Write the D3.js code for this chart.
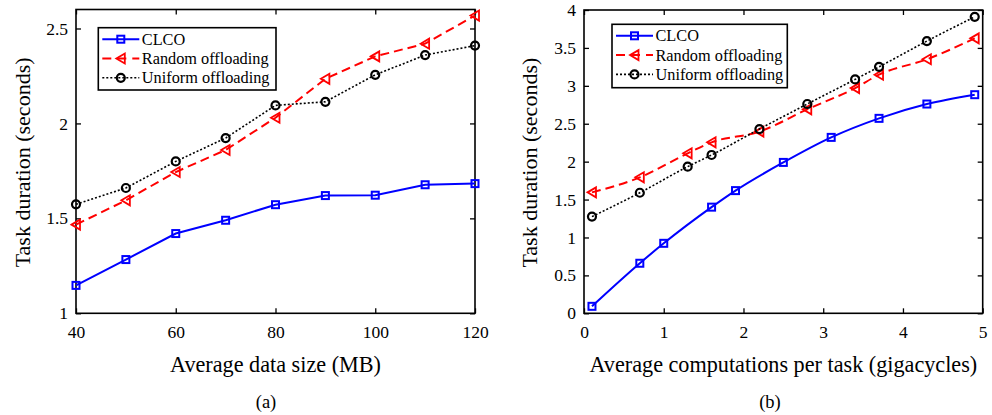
<!DOCTYPE html>
<html><head><meta charset="utf-8">
<script src="https://cdn.jsdelivr.net/npm/d3@7/dist/d3.min.js"></script>
<style>body{margin:0;background:#fff}svg{display:block}</style>
</head><body><svg id="c" width="992" height="415"></svg>
<script>
// ---- Data: chart (a)
const xA = [40, 50, 60, 70, 80, 90, 100, 110, 120];
const clcoA = [1.147, 1.283, 1.42, 1.49, 1.572, 1.62, 1.622, 1.677, 1.683];
const randomA = [1.467, 1.595, 1.744, 1.86, 2.03, 2.235, 2.353, 2.42, 2.568];
const uniformA = [1.574, 1.66, 1.8, 1.923, 2.095, 2.114, 2.256, 2.36, 2.41];
const xTicksA = [40, 60, 80, 100, 120];
const yTicksA = [1, 1.5, 2, 2.5];
// ---- Data: chart (b)
const xClcoB = [0.1, 0.7, 1.0, 1.6, 1.9, 2.5, 3.1, 3.7, 4.3, 4.9];
const clcoB = [0.092, 0.66, 0.923, 1.40, 1.618, 1.99, 2.32, 2.571, 2.76, 2.883];
const xOtherB = [0.1, 0.7, 1.3, 1.6, 2.2, 2.8, 3.4, 3.7, 4.3, 4.9];
const randomB = [1.595, 1.793, 2.11, 2.255, 2.396, 2.69, 2.97, 3.147, 3.35, 3.626];
const uniformB = [1.275, 1.59, 1.934, 2.088, 2.43, 2.76, 3.085, 3.25, 3.59, 3.91];
const xTicksB = [0, 1, 2, 3, 4, 5];
const yTicksB = [0, 0.5, 1, 1.5, 2, 2.5, 3, 3.5, 4];
const seriesNames = ["CLCO", "Random offloading", "Uniform offloading"];

const FONT = "'Liberation Serif', 'Times New Roman', Times, serif";
const svg = d3.select("#c");
const styles = [
  {color:"#0000ff", dash:null, width:2, marker:"square"},
  {color:"#ff0000", dash:"9,5", width:2, marker:"triangle"},
  {color:"#000000", dash:"2,2", width:1.6, marker:"circle"}
];

function txt(sel, size){ return sel.attr("font-family", FONT).style("font-family", FONT).style("font-size", size+"px").attr("fill","#000"); }

function drawMarker(g, type, x, y, color){
  if(type==="square"){
    g.append("rect").attr("x",x-3.5).attr("y",y-3.5).attr("width",7).attr("height",7)
      .attr("fill","none").attr("stroke",color).attr("stroke-width",2);
  } else if(type==="triangle"){
    g.append("path").attr("d",`M${x-4.5},${y} L${x+4},${y-5} L${x+4},${y+5} Z`)
      .attr("fill","none").attr("stroke",color).attr("stroke-width",1.8);
  } else {
    g.append("circle").attr("cx",x).attr("cy",y).attr("r",4)
      .attr("fill","none").attr("stroke",color).attr("stroke-width",2.2);
  }
}

function panel(cfg){
  const g = svg.append("g");
  const x = d3.scaleLinear().domain(cfg.xDomain).range([cfg.left, cfg.right]);
  const y = d3.scaleLinear().domain(cfg.yDomain).range([cfg.bottom, cfg.top]);
  const tl = 5;
  const fmt = d => d3.format("")(d);
  const ax = [
    [d3.axisBottom(x).tickValues(cfg.xTicks).tickSize(-tl).tickPadding(tl+7).tickFormat(fmt), `translate(0,${cfg.bottom})`],
    [d3.axisTop(x).tickValues(cfg.xTicks).tickSize(-tl).tickFormat(""), `translate(0,${cfg.top})`],
    [d3.axisLeft(y).tickValues(cfg.yTicks).tickSize(-tl).tickPadding(tl+3).tickFormat(fmt), `translate(${cfg.left},0)`],
    [d3.axisRight(y).tickValues(cfg.yTicks).tickSize(-tl).tickFormat(""), `translate(${cfg.right},0)`]
  ];
  ax.forEach(([a,t])=>{
    const ag = g.append("g").attr("transform",t).call(a).attr("font-family", FONT);
    ag.select(".domain").remove();
    ag.selectAll(".tick line").attr("stroke","#000").attr("stroke-width",1.3);
    txt(ag.selectAll(".tick text"), 17.5);
  });
  g.append("rect").attr("x",cfg.left).attr("y",cfg.top).attr("width",cfg.right-cfg.left)
    .attr("height",cfg.bottom-cfg.top).attr("fill","none").attr("stroke","#000").attr("stroke-width",1.6);

  cfg.series.forEach((s,i)=>{
    const st = styles[i];
    const pts = s.xs.map((xv,j)=>[x(xv), y(s.ys[j])]);
    const line = d3.line().curve(cfg.curve);
    const p = g.append("path").attr("d",line(pts)).attr("fill","none")
      .attr("stroke",st.color).attr("stroke-width",st.width);
    if(st.dash) p.attr("stroke-dasharray",st.dash);
    pts.forEach(([px,py])=>drawMarker(g, st.marker, px, py, st.color));
  });

  const L = cfg.legend;
  g.append("rect").attr("x",L.x).attr("y",L.y).attr("width",L.w).attr("height",L.h)
    .attr("fill","#fff").attr("stroke","#000").attr("stroke-width",1.6);
  seriesNames.forEach((name,i)=>{
    const st = styles[i];
    const ry = L.y + 11.5 + i*19.3;
    const lx0 = L.x + 4, lx1 = L.x + 41;
    const ln = g.append("line").attr("x1",lx0).attr("x2",lx1).attr("y1",ry).attr("y2",ry)
      .attr("stroke",st.color).attr("stroke-width",st.width);
    if(st.dash) ln.attr("stroke-dasharray", i===1 ? "9,6" : st.dash);
    drawMarker(g, st.marker, (lx0+lx1)/2, ry, st.color);
    txt(g.append("text").attr("x",L.x+43.5).attr("y",ry+5.5), 16.3).text(name);
  });

  txt(g.append("text").attr("x",(cfg.left+cfg.right)/2).attr("y",372).attr("text-anchor","middle"), 22.2).text(cfg.xLabel);
  txt(g.append("text").attr("transform",`translate(${cfg.yLabelX},${(cfg.top+cfg.bottom)/2+1}) rotate(-90)`)
    .attr("text-anchor","middle"), 22).text("Task duration (seconds)");
  txt(g.append("text").attr("x",cfg.capX).attr("y",408).attr("text-anchor","middle"), 18.5).text(cfg.caption);
}

panel({
  left:76, right:475, top:9.5, bottom:313.3,
  xDomain:[40,120], yDomain:[1,2.6], xTicks:xTicksA, yTicks:yTicksA,
  series:[{xs:xA, ys:clcoA},{xs:xA, ys:randomA},{xs:xA, ys:uniformA}],
  curve:d3.curveLinear,
  legend:{x:98.3, y:27.7, w:177.7, h:62.3},
  xLabel:"Average data size (MB)", yLabelX:30, capX:266, caption:"(a)"
});
panel({
  left:584, right:982.7, top:10, bottom:313.3,
  xDomain:[0,5], yDomain:[0,4], xTicks:xTicksB, yTicks:yTicksB,
  series:[{xs:xClcoB, ys:clcoB},{xs:xOtherB, ys:randomB},{xs:xOtherB, ys:uniformB}],
  curve:d3.curveMonotoneX,
  legend:{x:612, y:24.3, w:175.3, h:63.4},
  xLabel:"Average computations per task (gigacycles)", yLabelX:536.5, capX:770, caption:"(b)"
});
</script></body></html>
